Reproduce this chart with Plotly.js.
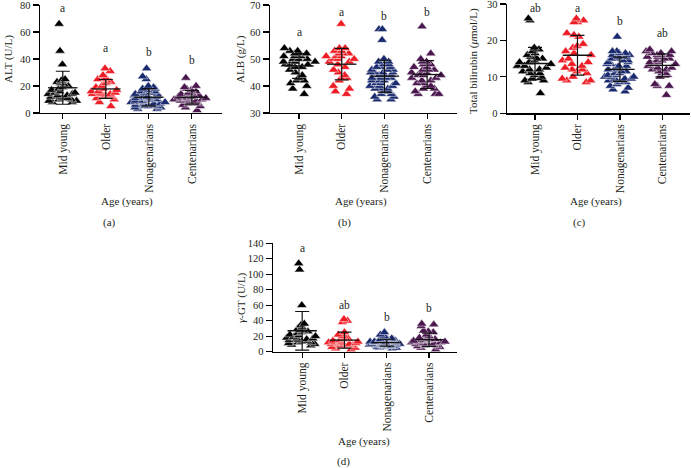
<!DOCTYPE html>
<html><head><meta charset="utf-8">
<script src="https://cdn.plot.ly/plotly-3.0.1.min.js"></script>
<style>html,body{margin:0;padding:0;background:#fff}#chart{width:691px;height:468px}</style>
</head><body><div id="chart"></div>
<script>
const groups = ['Mid young', 'Older', 'Nonagenarians', 'Centenarians'];
const groupColors = ['#000000', '#ee1c24', '#1a2a6e', '#4a174e'];

// (a) ALT (U/L)
const altMid = [66,46,36,25,24,24,23,22,21,20,19,18,17,16,15,15,14,14,13,13,12,12,11,11,10,10,9,9,8,8];
const altOlder = [33,31,28,26,25,25,24,23,22,20,19,18,17,16,16,15,15,14,14,14,13,13,12,12,11,10,8,5];
const altNona = [33,27,25,20,19,18,18,17,16,16,15,15,14,14,13,13,13,12,12,12,11,11,11,10,10,10,9,9,9,8,8,8,7,7,7,6,6,6,5,5,5,4,4,3,3];
const altCent = [26,20,19,18,17,16,15,15,14,14,13,13,12,12,12,11,11,11,10,10,10,9,9,9,8,8,7,7,6,5,4,2];
const altLetters = ['a','a','b','b'];
const altLetterY = [77.5,48.5,45,39];

// (b) ALB (g/L)
const albMid = [54,53,53,52,52,52,51,51,51,50,50,50,49,49,49,48,48,48,47,47,46,45,44,43,42,42,41,40,39,37];
const albOlder = [63,54,54,53,53,52,52,52,51,51,51,50,50,50,49,49,48,47,46,45,44,43,43,42,40,39,38,37];
const albNona = [61,61,57,50,49,49,48,48,47,47,47,46,46,46,45,45,45,45,44,44,44,43,43,43,43,42,42,42,41,41,41,40,40,40,39,39,39,38,38,37,37,36,36,35,35];
const albCent = [62,52,50,49,49,48,48,47,47,46,46,46,45,45,45,44,44,44,43,43,42,42,41,41,40,40,39,39,38,37,37,37];
const albLetters = ['a','a','b','b'];
const albLetterY = [60,67.3,66,67.3];

// (c) Total bilirubin (umol/L)
const tbMid = [26,25.5,18,17.5,17,16.5,16,15.5,15,15,14.5,14,14,14,13.5,13,13,12.5,12,12,11.5,11,11,10.5,10,9.5,9,9,8.5,5.5];
const tbOlder = [26,25.5,25,25,22,21.5,21,19,18.5,18,17,16.5,16,15,14.5,14,13.5,13,12.5,12,12,11.5,11,10,9.5,9,9,8.5];
const tbNona = [21,17,17,16.5,16.5,16,16,15.5,15.5,15,15,14.5,14.5,14,14,13.5,13.5,13,13,12.5,12.5,12,12,11.5,11.5,11,11,10.5,10.5,10,10,10,9.5,9.5,9.5,9,9,9,8.5,8.5,8,7.5,7,6.5,6];
const tbCent = [17.5,17,17,16.5,16.5,16,16,16,15.5,15.5,15,15,14.5,14.5,14,14,13.5,13.5,13,12.5,12.5,12,12,11.5,11,11,10.5,10,8,7.5,7.5,5];
const tbLetters = ['ab','a','b','ab'];
const tbLetterY = [29.0,29.0,25.3,22];

// (d) gamma-GT (U/L)
const ggtMid = [114,106,60,36,34,32,30,28,27,26,25,24,22,21,20,19,18,17,17,16,15,15,14,13,12,12,11,10,9,8];
const ggtOlder = [42,40,38,25,22,20,18,17,16,15,14,13,13,12,12,11,11,10,10,9,9,8,8,7,6,5,4,3];
const ggtNona = [25,22,20,18,17,16,16,15,15,15,14,14,14,13,13,13,13,12,12,12,12,12,11,11,11,11,10,10,10,10,9,9,9,9,8,8,8,7,7,7,6,6,5,5,4];
const ggtCent = [36,35,33,27,26,25,22,20,18,17,16,16,15,15,14,14,13,13,12,12,11,11,10,10,9,9,8,8,7,6,5,3];
const ggtLetters = ['a','ab','b','b'];
const ggtLetterY = [134,60,45,57];

const W = 691, H = 468;
const px = x => x / W;
const py = y => 1 - y / H;
const FONT = '"Liberation Serif", "Times New Roman", serif';
const TXT = '#231f20';

const panels = [
  {data:[altMid,altOlder,altNona,altCent], letters:altLetters, letterY:altLetterY,
   xs:[40,222], ys:[113,5], yr:[0,80], dtick:20, xr:[-0.53,3.7],
   ytitle:'ALT (U/L)', yt:[8,59], age:[127,201], lab:'(a)', labp:[109,222]},
  {data:[albMid,albOlder,albNona,albCent], letters:albLetters, letterY:albLetterY,
   xs:[270,457], ys:[113,5], yr:[30,70], dtick:10, xr:[-0.68,3.7],
   ytitle:'ALB (g/L)', yt:[240,59], age:[361,201], lab:'(b)', labp:[344,222]},
  {data:[tbMid,tbOlder,tbNona,tbCent], letters:tbLetters, letterY:tbLetterY,
   xs:[507,690], ys:[113.3,4], yr:[0,30], dtick:10, xr:[-0.66,3.65],
   ytitle:'Total bilirubin (<i>μ</i>mol/L)', yt:[474,61], age:[596,201], lab:'(c)', labp:[579,222]},
  {data:[ggtMid,ggtOlder,ggtNona,ggtCent], letters:ggtLetters, letterY:ggtLetterY,
   xs:[273,457], ys:[351.7,243.3], yr:[0,140], dtick:20, xr:[-0.69,3.66],
   ytitle:'<i>γ</i>-GT (U/L)', yt:[241,297], age:[364,441], lab:'(d)', labp:[343,461]}
];

function mean(a){return a.reduce((s,v)=>s+v,0)/a.length;}
function sd(a){const m=mean(a);return Math.sqrt(a.reduce((s,v)=>s+(v-m)*(v-m),0)/(a.length-1));}

const traces = [];
const layout = {
  width: W, height: H, margin:{l:0,r:0,t:0,b:0},
  paper_bgcolor:'#fff', plot_bgcolor:'rgba(0,0,0,0)',
  showlegend:false, boxmode:'overlay',
  font:{family:FONT, color:TXT, size:11},
  annotations:[]
};

panels.forEach((p, k) => {
  const n = k + 1;
  const xa = 'x' + (n === 1 ? '' : n), ya = 'y' + (n === 1 ? '' : n);
  const xk = 'xaxis' + (n === 1 ? '' : n), yk = 'yaxis' + (n === 1 ? '' : n);
  layout[xk] = {
    domain:[px(p.xs[0]), px(p.xs[1])], range:p.xr, anchor:ya,
    tickvals:[0,1,2,3], ticktext:groups, tickangle:-90,
    ticks:'outside', ticklen:5, tickwidth:1.2, tickcolor:'#000',
    showline:true, linewidth:1.3, linecolor:'#000',
    showgrid:false, zeroline:false, ticklabeloverflow:'allow',
    tickfont:{family:FONT, size:11.5, color:TXT}
  };
  layout[yk] = {
    domain:[py(p.ys[0]), py(p.ys[1])], range:p.yr, dtick:p.dtick, anchor:xa,
    ticks:'outside', ticklen:6, tickwidth:1.2, tickcolor:'#000',
    showline:true, linewidth:1.3, linecolor:'#000',
    showgrid:false, zeroline:false, ticklabeloverflow:'allow',
    tickfont:{family:FONT, size:10.5, color:TXT}
  };
  p.data.forEach((vals, i) => {
    traces.push({
      type:'box', x:vals.map(()=>i), y:vals, xaxis:xa, yaxis:ya,
      boxpoints:'all', jitter:1, pointpos:0, width:0.85,
      line:{width:0, color:'rgba(0,0,0,0)'}, fillcolor:'rgba(0,0,0,0)',
      marker:{symbol:'triangle-up', size:9, color:groupColors[i], line:{width:0.5, color:'#ffffff'}},
      hoverinfo:'skip'
    });
  });
  p.data.forEach((vals, i) => {
    traces.push({
      type:'scatter', mode:'markers', x:[i], y:[mean(vals)], xaxis:xa, yaxis:ya,
      marker:{symbol:'line-ew', size:21, color:'#000', line:{width:1.3, color:'#111'}},
      error_y:{type:'data', array:[sd(vals)], visible:true, width:7, thickness:1.2, color:'#111'},
      hoverinfo:'skip'
    });
    layout.annotations.push({
      xref:xa, yref:ya, x:i, y:p.letterY[i], text:p.letters[i], showarrow:false,
      font:{family:FONT, size:11.5, color:TXT}, xanchor:'center', yanchor:'middle'
    });
  });
  layout.annotations.push({
    xref:'paper', yref:'paper', x:px(p.yt[0]), y:py(p.yt[1]), text:p.ytitle, textangle:-90,
    showarrow:false, xanchor:'center', yanchor:'middle', font:{family:FONT, size:11, color:TXT}
  });
  layout.annotations.push({
    xref:'paper', yref:'paper', x:px(p.age[0]), y:py(p.age[1]), text:'Age (years)',
    showarrow:false, xanchor:'center', yanchor:'middle', font:{family:FONT, size:11, color:TXT}
  });
  layout.annotations.push({
    xref:'paper', yref:'paper', x:px(p.labp[0]), y:py(p.labp[1]), text:p.lab,
    showarrow:false, xanchor:'center', yanchor:'middle', font:{family:FONT, size:11, color:TXT}
  });
});

Plotly.newPlot('chart', traces, layout, {staticPlot:true, displayModeBar:false});
</script></body></html>
